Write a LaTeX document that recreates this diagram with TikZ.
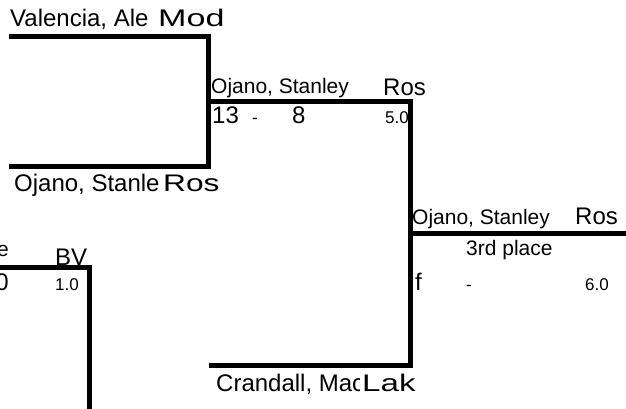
\documentclass[tikz,border=0pt]{standalone}
\usepackage{fontspec}
\usepackage{graphicx}
\setmainfont{Liberation Sans}
\begin{document}
\begin{tikzpicture}[x=1pt,y=-1pt,
  bline/.style={line width=5pt, line join=miter, line cap=rect},
  big/.style={inner sep=0pt, anchor=base west, font=\fontsize{24}{24}\selectfont},
  mid/.style={inner sep=0pt, anchor=base west, font=\fontsize{21}{21}\selectfont},
  small/.style={inner sep=0pt, anchor=base west, font=\fontsize{17}{17}\selectfont}]
\useasboundingbox (0,0) rectangle (626,408);
\clip (0,0) rectangle (626,408);
% lines
\coordinate (a1) at (11.5,36.5);
\coordinate (a2) at (208.5,36.5);
\coordinate (a3) at (208.5,166.5);
\coordinate (a4) at (11.5,166.5);
\draw[bline] (a1) -- (a2) -- (a3) -- (a4);
\coordinate (b1) at (208.5,101.5);
\coordinate (b2) at (410,101.5);
\coordinate (b3) at (410,365);
\coordinate (b4) at (211.5,365);
\draw[bline] (b1) -- (b2) -- (b3) -- (b4);
\coordinate (c1) at (410,233.5);
\coordinate (c2) at (630,233.5);
\draw[bline] (c1) -- (c2);
\coordinate (d1) at (-5,267.5);
\coordinate (d2) at (89,267.5);
\coordinate (d3) at (89,412);
\draw[bline] (d1) -- (d2) -- (d3);
% texts round 1
\node[big] (n1) at (10,26) {Valencia, Ale};
\node[big] (o1) at (158,26) {\scalebox{1.42}[1]{Mod}};
\begin{scope}
\clip (0,170) rectangle (158,200);
\node[big] (n2) at (14,191) {Ojano, Stanley};
\end{scope}
\node[big] (o2) at (163,191) {\scalebox{1.32}[1]{Ros}};
% round 2
\node[mid] (n3) at (211,93) {Ojano, Stanley};
\node[big] (o3) at (383,95) {Ros};
\node[big] (s1) at (212,123) {13};
\node[small] (s2) at (252,123) {-};
\node[big] (s3) at (292,123) {8};
\node[small] (s4) at (385,123) {5.0};
\begin{scope}
\clip (200,370) rectangle (359,400);
\node[big] (n4) at (216,391) {Crandall, Mac};
\end{scope}
\node[big] (o4) at (362,391) {\scalebox{1.38}[1]{Lak}};
% round 3
\node[mid] (n5) at (412,224) {Ojano, Stanley};
\node[big] (o5) at (575,224) {Ros};
\node[mid] (p3) at (466,255) {3rd place};
\node[big] (f1) at (415,290) {f};
\node[small] (f2) at (466,290) {-};
\node[small] (f3) at (585,290) {6.0};
% left fragment
\node[mid, anchor=base east] (le) at (9,256) {e};
\node[big] (lbv) at (55,265) {BV};
\node[big, anchor=base east] (l0) at (9,290) {0};
\node[small] (l1) at (55,290) {1.0};
\end{tikzpicture}
\end{document}
